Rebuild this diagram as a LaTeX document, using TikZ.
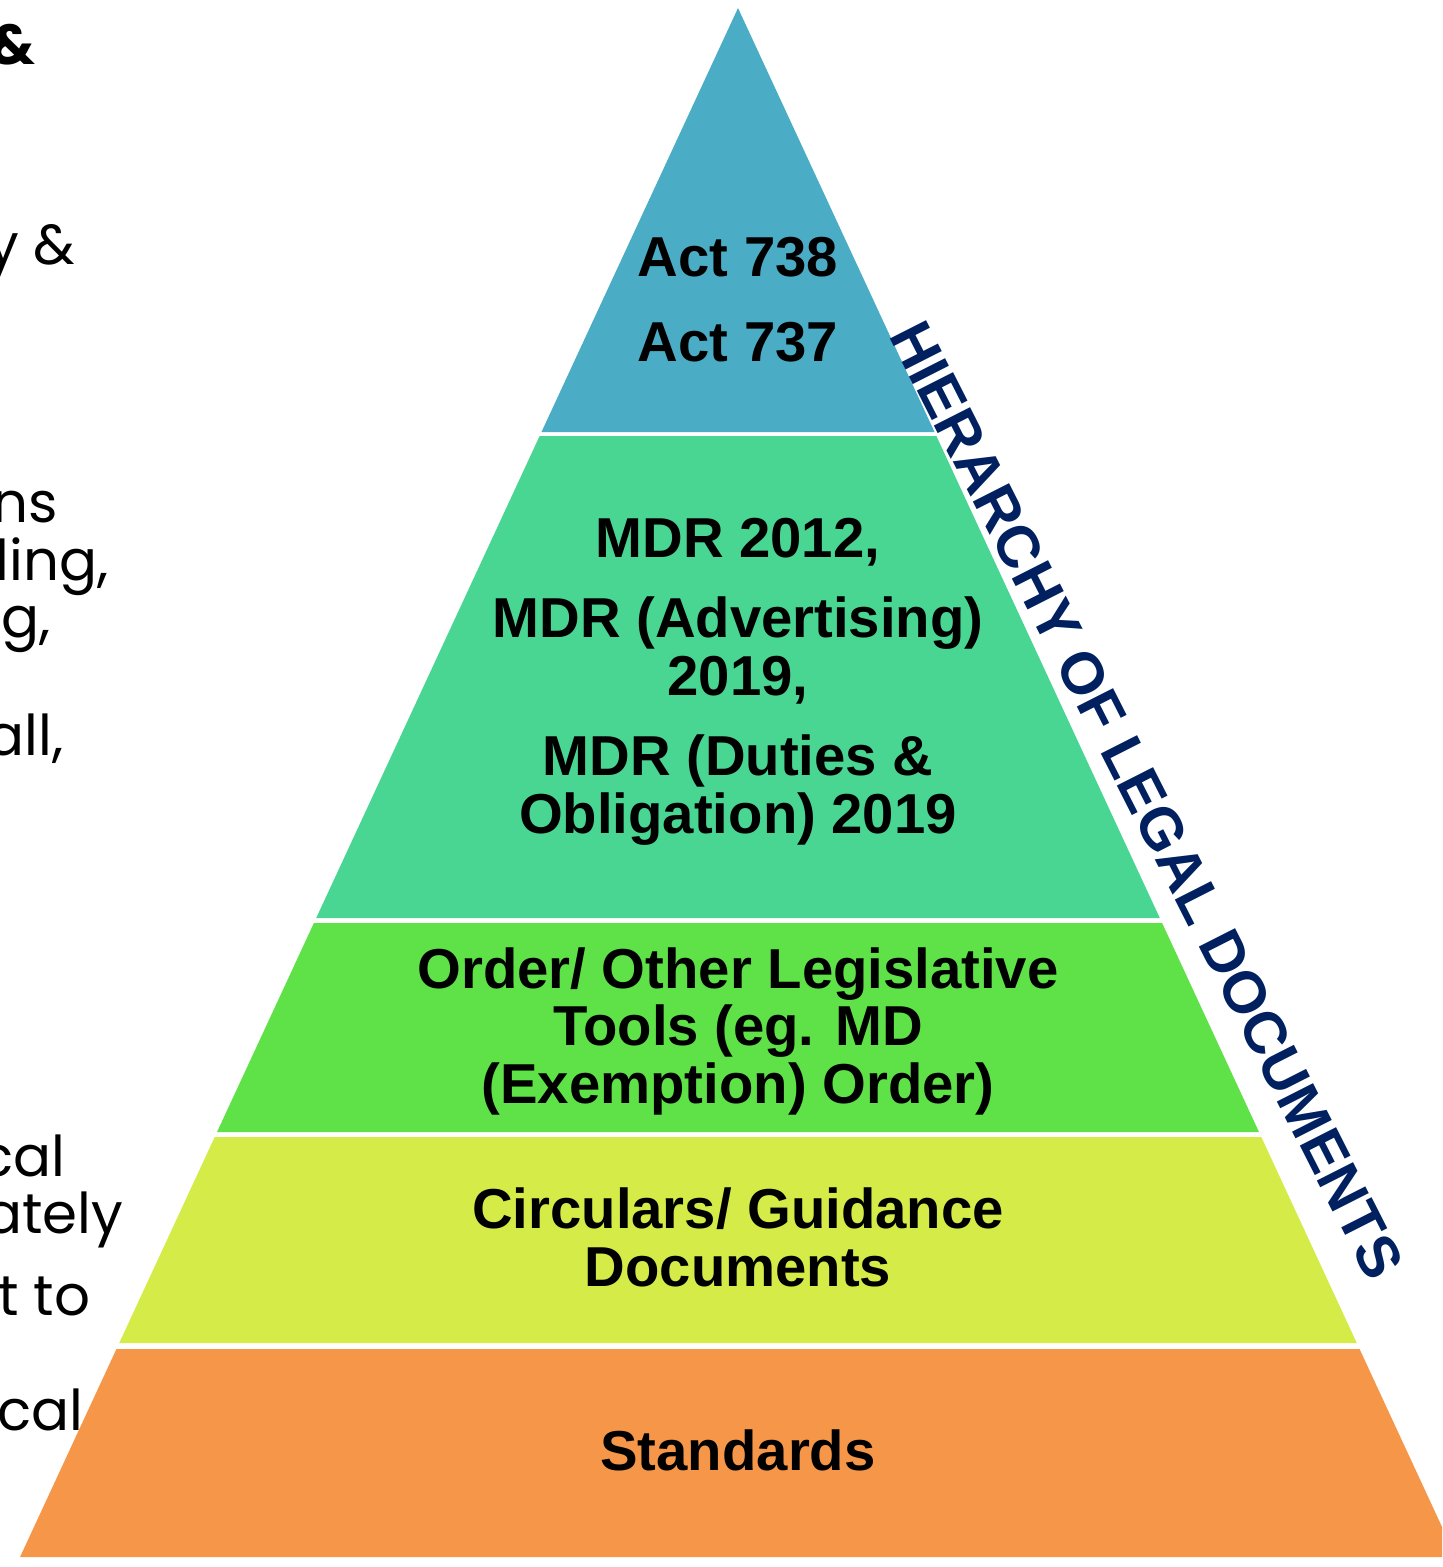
\documentclass[tikz,border=0pt]{standalone}
\usepackage{fontspec}
\setmainfont{Liberation Sans}
\newfontfamily\sidefont{Poppins}
\usetikzlibrary{positioning}
\definecolor{pyrTop}{RGB}{75,172,198}
\definecolor{pyrMdr}{RGB}{73,213,146}
\definecolor{pyrOrder}{RGB}{95,225,72}
\definecolor{pyrCirc}{RGB}{213,235,71}
\definecolor{pyrStd}{RGB}{246,150,72}
\definecolor{pyrNavy}{RGB}{0,32,96}
\tikzset{
  layertext/.style={anchor=base,font=\fontsize{16}{19}\selectfont\bfseries},
  sidetext/.style={anchor=base east,inner sep=0pt,font=\sidefont\fontsize{16}{19}\selectfont}
}

\begin{document}
\begin{tikzpicture}[x=0.01cm,y=-0.01cm]
    \clip (0,0) rectangle (1442,1567);
    % text running in from the left margin
    \node[sidetext,font=\sidefont\bfseries\fontsize{16}{19}\selectfont] (sideA) at (36,65) {\&};
    \node[sidetext] (sideB) at (76,265) {y \&};
    \node[sidetext] (sideC) at (59,522) {ns};
    \node[sidetext] (sideD) at (109,580) {ling,};
    \node[sidetext] (sideE) at (51,637) {g,};
    \node[sidetext] (sideF) at (64,755) {all,};
    \node[sidetext] (sideG) at (66,1176) {cal};
    \node[sidetext] (sideH) at (124,1233) {ately};
    \node[sidetext] (sideI) at (91,1315) {t to};
    \node[sidetext] (sideJ) at (84,1430) {ical};
    % pyramid layers, all on the same two slanted edges
    \foreach \ytop/\ybot/\col in {8/432/pyrTop,436/918/pyrMdr,923/1132/pyrOrder,1137/1343/pyrCirc,1349/1557/pyrStd}{
      \pgfmathsetmacro{\dtop}{0.4635*(\ytop-8)}
      \pgfmathsetmacro{\dbot}{0.4635*(\ybot-8)}
      \fill[\col] (738-\dtop,\ytop) -- (738+\dtop,\ytop) -- (738+\dbot,\ybot) -- (738-\dbot,\ybot) -- cycle;
    }
    \node[layertext] (act1) at (738,277) {Act 738};
    \node[layertext] (act2) at (738,362) {Act 737};
    \node[layertext] (mdr1) at (738,557) {MDR 2012,};
    \node[layertext] (mdr2) at (738,637) {MDR (Advertising)};
    \node[layertext] (mdr3) at (738,695) {2019,};
    \node[layertext] (mdr4) at (738,775) {MDR (Duties \&};
    \node[layertext] (mdr5) at (738,833) {Obligation) 2019};
    \node[layertext] (ord1) at (738,988) {Order/ Other Legislative};
    \node[layertext] (ord2) at (738,1045) {Tools (eg. MD};
    \node[layertext] (ord3) at (738,1103) {(Exemption) Order)};
    \node[layertext] (circ1) at (738,1228) {Circulars/ Guidance};
    \node[layertext] (circ2) at (738,1286) {Documents};
    \node[layertext] (std) at (738,1470) {Standards};
    % title along the right edge
    \node[rotate=-63.1,text=pyrNavy,font=\fontsize{16.8}{19}\selectfont\bfseries] (hier) at (1147,800) {HIERARCHY OF LEGAL DOCUMENTS};
\end{tikzpicture}
\end{document}
